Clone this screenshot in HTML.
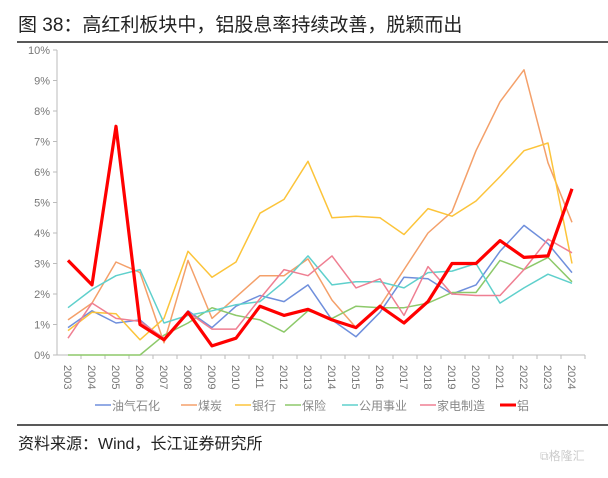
<!DOCTYPE html>
<html><head><meta charset="utf-8"><style>
body{margin:0;background:#fff;width:608px;height:473px;overflow:hidden;font-family:"Liberation Sans","Noto Sans CJK SC",sans-serif;}
</style></head><body>
<svg width="608" height="473" id="svg" xmlns="http://www.w3.org/2000/svg">
<text x="18" y="31" font-size="19" fill="#222" font-family="Liberation Sans, Noto Sans CJK SC, sans-serif">图 38：高红利板块中，铝股息率持续改善，脱颖而出</text>
<line x1="17" y1="42" x2="608" y2="42" stroke="#222" stroke-width="1.5"/>
<line x1="17" y1="425" x2="608" y2="425" stroke="#222" stroke-width="1.5"/>
<text x="18" y="449" font-size="16" fill="#222" font-family="Liberation Sans, Noto Sans CJK SC, sans-serif">资料来源：Wind，长江证券研究所</text>
<text x="540" y="460" font-size="12" fill="#ccc" font-family="Liberation Sans, Noto Sans CJK SC, sans-serif">⧉格隆汇</text>
<g id="g"></g>
</svg>
<script>
const years=[2003,2004,2005,2006,2007,2008,2009,2010,2011,2012,2013,2014,2015,2016,2017,2018,2019,2020,2021,2022,2023,2024];
const yTicks=[0,1,2,3,4,5,6,7,8,9,10];
const seriesNames=["油气石化","煤炭","银行","保险","公用事业","家电制造","铝"];
const seriesColors=["#6f8fdc","#f4a06a","#fcc43a","#8dc96a","#5fd0cc","#ef7f92","#ff0000"];
const oilGas=[0.9,1.45,1.05,1.15,0.5,1.45,0.9,1.6,1.95,1.75,2.3,1.15,0.6,1.4,2.55,2.5,2.0,2.3,3.4,4.25,3.65,2.7];
const coal=[1.15,1.7,3.05,2.7,0.4,3.1,1.2,1.9,2.6,2.6,3.15,1.8,0.9,1.6,2.8,4.0,4.7,6.7,8.3,9.35,6.3,4.35];
const bank=[0.8,1.4,1.35,0.5,1.2,3.4,2.55,3.05,4.65,5.1,6.35,4.5,4.55,4.5,3.95,4.8,4.55,5.05,5.85,6.7,6.95,3.0];
const insurance=[0,0,0,0,0.65,1.05,1.55,1.3,1.15,0.75,1.45,1.2,1.6,1.55,1.55,1.7,2.05,2.05,3.1,2.8,3.2,2.4];
const utility=[1.55,2.15,2.6,2.8,1.05,1.3,1.45,1.65,1.75,2.4,3.25,2.3,2.4,2.4,2.2,2.7,2.75,3.0,1.7,2.2,2.65,2.35];
const appliance=[0.55,1.7,1.2,1.1,0.55,1.4,0.85,0.85,1.85,2.8,2.6,3.25,2.2,2.5,1.3,2.9,2.0,1.95,1.95,2.8,3.8,3.35];
const aluminum=[3.1,2.3,7.5,1.0,0.5,1.4,0.3,0.55,1.6,1.3,1.5,1.15,0.9,1.6,1.05,1.75,3.0,3.0,3.75,3.2,3.25,5.45];
const allSeries=[oilGas,coal,bank,insurance,utility,appliance,aluminum];

const NS="http://www.w3.org/2000/svg";
const g=document.getElementById('g');
const X0=68,X1=572,Y0=355,Y1=50,XL=57,XR=585;
const xs=i=>X0+(X1-X0)*i/(years.length-1);
const ys=v=>Y0-(Y0-Y1)*v/10;
function mk(t,a){const e=document.createElementNS(NS,t);for(const k in a)e.setAttribute(k,a[k]);g.appendChild(e);return e;}
let e=mk('line',{x1:XL,y1:Y0,x2:XR,y2:Y0,stroke:'#bbb'});


e=mk('line',{x1:XL,y1:Y1,x2:XL,y2:Y0,stroke:'#bbb'});


yTicks.forEach(t=>{
  const l=mk('line',{x1:XL-4,y1:ys(t),x2:XL,y2:ys(t),stroke:'#bbb'});
  
  
  const tx=mk('text',{x:XL-7,y:ys(t)+4,'text-anchor':'end','font-size':11,fill:'#777'});
  tx.textContent=t+'%';
  
  
});
years.forEach((yr,i)=>{
  const bx=XL+(XR-XL)*(i+1)/years.length;
  const l=mk('line',{x1:bx,y1:Y0,x2:bx,y2:Y0+4,stroke:'#bbb'});
  
  
  const tx=mk('text',{x:0,y:0,'font-size':11,fill:'#777',transform:`translate(${xs(i)-4},${Y0+10}) rotate(90)`});
  tx.textContent=yr;
  
  
});
allSeries.forEach((s,k)=>{
  const pts=s.map((v,i)=>xs(i).toFixed(1)+','+ys(v).toFixed(1)).join(' ');
  const p=mk('polyline',{points:pts,fill:'none',stroke:seriesColors[k],'stroke-width':k==6?3.2:1.5,'stroke-linejoin':'round'});
  
  
});
const legX=[95,181,235,285,342,420,500];
seriesNames.forEach((n,k)=>{
  const l=mk('line',{x1:legX[k],y1:405,x2:legX[k]+16,y2:405,stroke:seriesColors[k],'stroke-width':k==6?3:1.5});
  
  
  const t=mk('text',{x:legX[k]+17,y:410,'font-size':12,fill:'#888'});
  t.textContent=n;
  
  
});
</script>
</body></html>
